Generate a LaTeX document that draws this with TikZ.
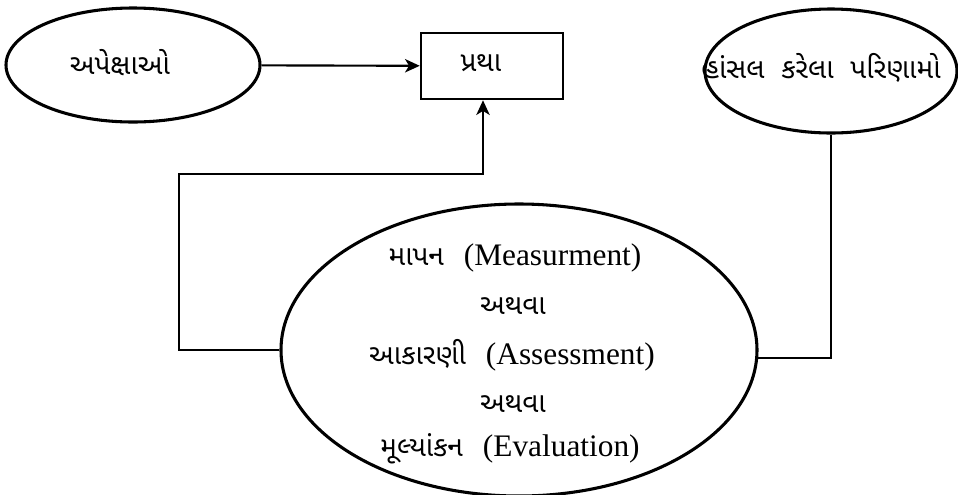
\documentclass[tikz,border=0pt]{standalone}
\usepackage{fontspec}
\setmainfont{Liberation Serif}
\newfontfamily\guj[Script=Gujarati]{Noto Sans Gujarati UI}
\usetikzlibrary{shapes.geometric,arrows.meta,calc}
\newcommand{\gujsz}{\guj\fontsize{21}{24}\selectfont}
\tikzset{
  ell/.style={draw,ellipse,line width=2.3pt,inner sep=0pt},
  boxnode/.style={draw,rectangle,line width=1.9pt,inner sep=0pt},
  conn/.style={line width=1.6pt},
  arr/.style={conn,-{Stealth[length=11pt,width=10pt,inset=3pt]}},
  gtxt/.style={font=\gujsz,inner sep=0pt},
  mtxt/.style={font=\fontsize{23.5}{26}\selectfont,inner sep=0pt},
}
\begin{document}
\begin{tikzpicture}[x=0.75pt,y=-0.75pt]
\useasboundingbox (0,0) rectangle (958,494);
\fill[white] (0,0) rectangle (958,494);
% shapes
\node[ell,minimum width=190.5pt,minimum height=85.5pt] (e1) at (133,65) {};
\node[gtxt] (t1) at (120,63) {અપેક્ષાઓ};
\node[boxnode,minimum width=106.5pt,minimum height=49.5pt] (box) at (492,66) {};
\node[gtxt] (t2) at (481,63) {પ્રથા};
\node[ell,minimum width=189pt,minimum height=93pt] (e3) at (831,71) {};
\node[gtxt] (t3) at (821,68) {હાંસલ\ \ કરેલા\ \ પરિણામો};
\node[ell,minimum width=357pt,minimum height=219pt] (big) at (519,350) {};
\node[mtxt] (l1) at (515,258) {{\gujsz માપન}\hspace{15pt}(Measurment)};
\node[gtxt] (l2) at (513,306) {અથવા};
\node[mtxt] (l3) at (512,355) {{\gujsz આકારણી}\hspace{15pt}(Assessment)};
\node[gtxt] (l4) at (513,404) {અથવા};
\node[mtxt] (l5) at (510,449) {{\gujsz મૂલ્યાંકન}\hspace{15pt}(Evaluation)};
% connectors
\coordinate (lc) at (179,174);
\coordinate (bin) at ($(box.south)+(-9,0)$);
\draw[arr] (e1) -- (box);
\draw[arr] (big.west) -| (lc) -| (bin);
\draw[conn] (e3.south) |- (big.-2);
\end{tikzpicture}
\end{document}
